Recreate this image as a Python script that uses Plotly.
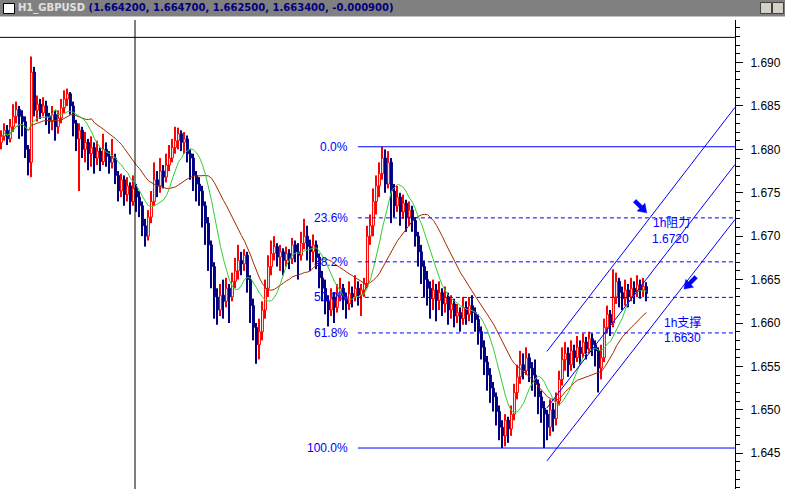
import plotly.graph_objects as go
import pandas as pd

# ---------------- data (prices in pips: 6815 -> 1.6815) ----------------
opens = [6808,6815,6822,6812,6826,6838,6846,6838,6832,6800,6785,6889,6845,6852,6842,6850,6838,6832,6840,6826,
         6836,6848,6858,6864,6850,6830,6812,6822,6800,6808,6795,6802,6790,6798,6786,6800,6792,6785,6790,6770,
         6752,6765,6748,6758,6740,6755,6745,6735,6712,6700,6722,6740,6765,6758,6775,6768,6782,6790,6802,6810,
         6818,6808,6812,6795,6790,6770,6760,6752,6735,6715,6690,6665,6630,6615,6632,6625,6640,6630,6648,6660,
         6672,6668,6678,6650,6620,6595,6575,6590,6615,6640,6665,6680,6688,6676,6682,6672,6680,6674,6690,6682,
         6678,6692,6700,6688,6682,6690,6676,6652,6640,6625,6615,6630,6618,6632,6640,6628,6622,6634,6630,6640,
         6632,6638,6645,6700,6712,6740,6758,6772,6790,6760,6785,6752,6735,6745,6728,6738,6722,6730,6718,6700,
         6682,6665,6650,6640,6628,6638,6626,6635,6622,6630,6615,6622,6608,6612,6605,6618,6610,6620,6612,6604,
         6590,6572,6555,6540,6525,6515,6498,6480,6470,6488,6478,6495,6520,6538,6552,6545,6560,6548,6540,6530,
         6515,6502,6495,6480,6500,6490,6510,6535,6558,6565,6552,6568,6560,6572,6565,6578,6570,6582,6575,6568,
         6548,6560,6595,6610,6600,6630,6648,6635,6628,6638,6630,6640,6636,6644,6638,6642]
highs = [6822,6830,6828,6835,6852,6855,6850,6845,6838,6805,6907,6895,6862,6858,6860,6856,6842,6850,6845,6845,
         6858,6868,6870,6866,6855,6834,6830,6826,6820,6812,6815,6808,6810,6802,6818,6808,6798,6812,6795,6775,
         6772,6770,6768,6762,6770,6760,6752,6740,6720,6730,6752,6785,6775,6790,6782,6795,6805,6812,6826,6825,
         6822,6820,6816,6800,6795,6775,6768,6758,6740,6722,6695,6670,6640,6645,6650,6652,6645,6658,6675,6690,
         6682,6685,6682,6655,6628,6600,6605,6625,6650,6678,6695,6700,6692,6690,6686,6688,6685,6698,6695,6692,
         6705,6720,6712,6696,6702,6695,6680,6660,6650,6632,6640,6635,6645,6652,6645,6635,6648,6642,6655,6648,
         6645,6652,6712,6725,6755,6770,6785,6803,6800,6798,6790,6760,6758,6750,6748,6742,6740,6735,6722,6705,
         6690,6672,6660,6648,6650,6645,6648,6640,6642,6635,6632,6628,6622,6618,6630,6625,6630,6632,6618,6610,
         6596,6580,6562,6548,6532,6520,6505,6488,6495,6492,6505,6530,6552,6568,6565,6572,6565,6555,6558,6535,
         6522,6510,6500,6512,6508,6520,6545,6572,6578,6572,6580,6575,6585,6580,6588,6584,6590,6588,6580,6572,
         6575,6605,6620,6615,6662,6658,6652,6642,6650,6645,6652,6648,6655,6650,6652,6647]
lows = [6800,6810,6805,6808,6820,6830,6812,6815,6790,6770,6768,6838,6832,6835,6838,6828,6818,6822,6810,6818,
        6830,6842,6850,6840,6815,6798,6752,6790,6785,6776,6780,6772,6782,6775,6782,6780,6772,6778,6760,6740,
        6745,6735,6740,6725,6735,6728,6722,6700,6688,6695,6715,6735,6745,6750,6755,6762,6775,6785,6795,6800,
        6798,6795,6785,6765,6752,6740,6735,6710,6690,6660,6640,6605,6598,6608,6605,6618,6600,6625,6640,6650,
        6655,6660,6635,6600,6580,6553,6558,6580,6605,6630,6655,6672,6665,6660,6655,6665,6662,6668,6670,6650,
        6672,6685,6672,6660,6670,6662,6640,6625,6610,6596,6608,6600,6612,6625,6615,6605,6615,6618,6625,6620,
        6608,6630,6640,6690,6700,6725,6745,6765,6750,6755,6715,6722,6728,6712,6720,6705,6712,6705,6688,6665,
        6645,6630,6620,6605,6615,6602,6615,6608,6612,6598,6605,6595,6600,6590,6598,6598,6602,6600,6590,6575,
        6558,6540,6522,6508,6498,6482,6465,6456,6458,6462,6470,6488,6512,6530,6535,6540,6532,6522,6515,6495,
        6485,6456,6465,6470,6475,6482,6505,6528,6545,6538,6545,6548,6555,6552,6560,6558,6565,6562,6550,6520,
        6535,6555,6588,6585,6595,6622,6618,6615,6620,6618,6625,6622,6630,6628,6630,6625]
closes = [6815,6822,6812,6826,6838,6846,6838,6832,6800,6785,6889,6845,6852,6842,6850,6838,6832,6840,6826,6836,
          6848,6858,6864,6850,6830,6812,6822,6800,6808,6795,6802,6790,6798,6786,6800,6792,6785,6790,6770,6752,
          6765,6748,6758,6740,6755,6745,6735,6712,6700,6722,6740,6765,6758,6775,6768,6782,6790,6802,6810,6818,
          6808,6812,6795,6790,6770,6760,6752,6735,6715,6690,6665,6630,6615,6632,6625,6640,6630,6648,6660,6672,
          6668,6678,6650,6620,6595,6575,6590,6615,6640,6665,6680,6688,6676,6682,6672,6680,6674,6690,6682,6678,
          6692,6700,6688,6682,6690,6676,6652,6640,6625,6615,6630,6618,6632,6640,6628,6622,6634,6630,6640,6632,
          6638,6645,6700,6712,6740,6758,6772,6790,6760,6785,6752,6735,6745,6728,6738,6722,6730,6718,6700,6682,
          6665,6650,6640,6628,6638,6626,6635,6622,6630,6615,6622,6608,6612,6605,6618,6610,6620,6612,6604,6590,
          6572,6555,6540,6525,6515,6498,6480,6470,6488,6478,6495,6520,6538,6552,6545,6560,6548,6540,6530,6515,
          6502,6495,6480,6500,6490,6510,6535,6558,6565,6552,6568,6560,6572,6565,6578,6570,6582,6575,6568,6548,
          6560,6595,6610,6600,6630,6648,6635,6628,6638,6630,6640,6636,6644,6638,6642,6634]

ma_fast_period = 9
ma_slow_period = 21

# fibonacci anchors and levels
fib_high = 1.6803
fib_low = 1.6456
fib_levels = [0.0, 23.6, 38.2, 50.0, 61.8, 100.0]
fib_start_x = 118.8

# channel trend lines (bar index, price)
channel_x = [181.8, 244.5]
channel_upper = [1.65672, 1.68484]
channel_middle = [1.65022, 1.67826]
channel_lower = [1.64411, 1.67192]

# cursor lines
cursor_x = 44.5
cursor_price = 1.6929

# hand-drawn arrows: tip position (bar index, price) and direction (+1 right / -1 left)
arrow_tips_x = [215.07, 227.5]
arrow_tips_y = [1.67269, 1.66392]
arrow_dirs = [1, -1]

header_symbol = "H1_GBPUSD"
header_values = "(1.664200, 1.664700, 1.662500, 1.663400, -0.000900)"

y_range = [1.64088, 1.69490]
x_range = [-0.5, 244.5]

# ---------------- build ----------------
n = len(closes)
idx = list(range(n))
o = [v / 10000 + 1 for v in opens]
h = [v / 10000 + 1 for v in highs]
l = [v / 10000 + 1 for v in lows]
c = [v / 10000 + 1 for v in closes]
cs = pd.Series(c)
ma_fast = cs.rolling(ma_fast_period, min_periods=1).mean()
ma_slow = cs.rolling(ma_slow_period, min_periods=1).mean()

UP_COL, DN_COL = "#ff0000", "#000080"
up = [cc >= oo for oo, cc in zip(o, c)]
edge_cols = [UP_COL if u else DN_COL for u in up]
fill_cols = ["#ffffff" if u else DN_COL for u in up]
body_base = [min(oo, cc) for oo, cc in zip(o, c)]
body_h = [max(abs(cc - oo), 0.00002) for oo, cc in zip(o, c)]
wick_h = [hh - ll for hh, ll in zip(h, l)]

BLUE = "#0000ff"
fig = go.Figure()
# wicks
fig.add_trace(go.Bar(x=idx, y=wick_h, base=l, width=0.34, marker=dict(color=edge_cols, line=dict(width=0)),
                     hoverinfo="skip", showlegend=False))
# bodies
fig.add_trace(go.Bar(x=idx, y=body_h, base=body_base, width=0.62,
                     marker=dict(color=fill_cols, line=dict(color=edge_cols, width=1)),
                     hoverinfo="skip", showlegend=False))
fig.add_trace(go.Scatter(x=idx, y=ma_slow, mode="lines",
                         line=dict(color="#a52a00", width=1), hoverinfo="skip", showlegend=False))
fig.add_trace(go.Scatter(x=idx, y=ma_fast, mode="lines",
                         line=dict(color="#32cd32", width=1), hoverinfo="skip", showlegend=False))

# channel lines
for ys in (channel_upper, channel_middle, channel_lower):
    fig.add_trace(go.Scatter(x=channel_x, y=ys, mode="lines",
                             line=dict(color=BLUE, width=1), hoverinfo="skip", showlegend=False))

shapes = []
annotations = []
rng = fib_high - fib_low
for lv in fib_levels:
    price = fib_high - rng * lv / 100
    solid = lv in (0.0, 100.0)
    shapes.append(dict(type="line", xref="x", yref="y", x0=fib_start_x, x1=x_range[1],
                       y0=price, y1=price,
                       line=dict(color=BLUE, width=1, dash="solid" if solid else "4px,3px")))
    annotations.append(dict(x=fib_start_x - 2.6, y=price, xref="x", yref="y", text=f"{lv:.1f}%",
                            showarrow=False, xanchor="right", yanchor="middle",
                            font=dict(family="Liberation Sans, Arial", size=12, color=BLUE)))

# cursor crosshair
shapes.append(dict(type="line", xref="x", yref="paper", x0=cursor_x, x1=cursor_x, y0=0, y1=1,
                   line=dict(color="black", width=1)))
shapes.append(dict(type="line", xref="paper", yref="y", x0=0, x1=1, y0=cursor_price, y1=cursor_price,
                   line=dict(color="black", width=1)))

# arrows as pixel-sized polygons anchored at data points (pixel y is upward)
arrow_poly = [(0, 0), (-9.55, 1.77), (-7.07, 4.24), (-13.43, 10.61), (-10.61, 13.43), (-4.24, 7.07), (-1.77, 9.55)]
for ax_, ay_, d in zip(arrow_tips_x, arrow_tips_y, arrow_dirs):
    pts = [(px_ * d, py_) for px_, py_ in arrow_poly]
    path = "M " + " L ".join(f"{a:.2f},{b:.2f}" for a, b in pts) + " Z"
    shapes.append(dict(type="path", xref="x", yref="y", xsizemode="pixel", ysizemode="pixel",
                       xanchor=ax_, yanchor=ay_, path=path,
                       fillcolor=BLUE, line=dict(color=BLUE, width=0.5)))

# header bar
PW = 735.0
PH = 469.0
def px(xp):
    return xp / PW
def py(yp):
    return (489 - yp) / PH
shapes.append(dict(type="rect", xref="paper", yref="paper", x0=px(0), x1=px(785), y0=py(16), y1=py(0),
                   fillcolor="#808080", line=dict(width=0), layer="above"))
shapes.append(dict(type="line", xref="paper", yref="paper", x0=px(0), x1=px(785), y0=py(16.5), y1=py(16.5),
                   line=dict(color="#c0c0c0", width=1), layer="above"))
shapes.append(dict(type="rect", xref="paper", yref="paper", x0=px(3.5), x1=px(14.5), y0=py(13.5), y1=py(3.5),
                   fillcolor="#ffffff", line=dict(color="#000000", width=1), layer="above"))
for bx in (760, 772):
    shapes.append(dict(type="rect", xref="paper", yref="paper", x0=px(bx + 0.5), x1=px(bx + 11.5),
                       y0=py(13.5), y1=py(2.5),
                       fillcolor="#d4d0c8", line=dict(color="#404040", width=1), layer="above"))
annotations.append(dict(xref="paper", yref="paper", x=px(16), y=py(8), xanchor="left", yanchor="middle",
                        showarrow=False,
                        text=f"<b><span style='color:#e0e0e0'>{header_symbol}</span> "
                             f"<span style='color:#000080'>{header_values}</span></b>",
                        font=dict(family="DejaVu Sans", size=10)))

# text labels
txt_font = dict(family="Liberation Sans, Noto Sans CJK SC", size=12, color=BLUE)
annotations += [
    dict(x=216.4, y=1.67157, xref="x", yref="y", text="1h阻力", showarrow=False, xanchor="left", font=txt_font),
    dict(x=216.0, y=1.66973, xref="x", yref="y", text="1.6720", showarrow=False, xanchor="left", font=txt_font),
    dict(x=220.3, y=1.66003, xref="x", yref="y", text="1h支撑", showarrow=False, xanchor="left", font=txt_font),
    dict(x=220.3, y=1.65830, xref="x", yref="y", text="1.6630", showarrow=False, xanchor="left", font=txt_font),
]

fig.update_layout(
    width=785, height=489,
    margin=dict(l=0, r=50, t=20, b=0),
    paper_bgcolor="#ffffff", plot_bgcolor="#ffffff",
    shapes=shapes, annotations=annotations,
    showlegend=False, hovermode=False, barmode="overlay",
    xaxis=dict(range=x_range, visible=False, fixedrange=True),
    yaxis=dict(range=y_range, side="right", showgrid=False, zeroline=False,
               showline=True, linecolor="black", linewidth=1,
               ticks="outside", ticklen=7, tickcolor="black", tickwidth=1,
               tick0=1.645, dtick=0.005, tickformat=".3f", ticklabelstandoff=5,
               tickfont=dict(family="Liberation Sans, Arial", size=12, color="#000000"),
               minor=dict(dtick=0.001, tick0=1.645, ticks="outside", ticklen=4,
                          tickcolor="black", tickwidth=1),
               fixedrange=True),
)

fig.write_html("out.html", config={"displayModeBar": False},
               post_script="document.body.style.margin='0px';document.body.style.overflow='hidden';")
